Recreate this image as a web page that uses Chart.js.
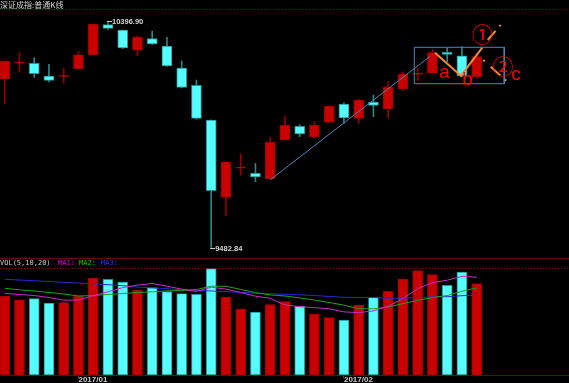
<!DOCTYPE html>
<html><head><meta charset="utf-8">
<script src="https://cdn.jsdelivr.net/npm/chart.js@4/dist/chart.umd.min.js"></script>
<style>
html,body{margin:0;padding:0;background:#000;width:569px;height:383px;overflow:hidden}
#p{position:absolute;left:0;top:0}
#v{position:absolute;left:0;top:258px}
</style></head><body>
<canvas id="p" width="569" height="258"></canvas>
<canvas id="v" width="569" height="125"></canvas>
<script>
// ---------- data ----------
const titleText = '深证成指:普通K线';
const categories = ['2016-12-26','2016-12-27','2016-12-28','2016-12-29','2016-12-30',
  '2017-01-03','2017-01-04','2017-01-05','2017-01-06','2017-01-09','2017-01-10','2017-01-11','2017-01-12','2017-01-13',
  '2017-01-16','2017-01-17','2017-01-18','2017-01-19','2017-01-20','2017-01-23','2017-01-24','2017-01-25','2017-01-26',
  '2017-02-03','2017-02-06','2017-02-07','2017-02-08','2017-02-09','2017-02-10','2017-02-13','2017-02-14','2017-02-15','2017-02-16'];
const openP  = [10167.4,10232.0,10231.0,10179.6,10178.0,10208.0,10266.0,10388.0,10366.4,10284.0,10332.0,10301.4,10212.0,10141.8,
  10000.8,9686.8,9805.5,9784.3,9762.3,9920.8,9975.2,9933.0,9991.5,10065.8,10007.7,10074.0,10045.5,10126.7,10186.0,10191.7,10276.2,10262.0,10176.7];
const closeP = [10240.5,10235.5,10189.0,10162.0,10181.5,10266.0,10389.6,10373.0,10293.3,10338.0,10309.6,10220.0,10133.6,10007.7,
  9713.6,9830.2,9809.0,9769.2,9910.2,9979.3,9943.9,9980.5,10056.5,10008.9,10082.0,10059.7,10136.0,10186.5,10189.5,10274.2,10267.7,10180.8,10258.0];
const highP  = [10242,10274,10254,10227,10211,10278,10391,10396.90,10367,10343,10362,10336.8,10240.5,10163.3,
  10001,9831,9862.7,9824.9,9930.5,10014.2,9981.7,9995.5,10058,10071,10084.9,10102.4,10156.4,10197,10211,10286.4,10293.3,10298.6,10271.8];
const lowP   = [10065.8,10194.6,10174,10156,10151,10207,10264,10369,10290.5,10262,10306.7,10218,10131,10003.6,
  9482.84,9612,9777.4,9750,9761,9919,9933,9926.5,9990,9987.4,9987.4,10014.2,10007.7,10118.6,10160.5,10191,10237.6,10176.7,10170.2];
const vol = [79,75,76.3,72,72.3,79,97,95.7,93,84.7,87.3,83.3,81.3,80.7,106.3,78,66,63,70.3,73.3,69,61,57.3,55,69.7,77.7,83.7,96,104.3,100.3,89.7,103,91.3];
const ma1 = [81.7,80.5,79.5,77.5,74.9,74.9,79.3,83.2,87.4,89.9,91.5,88.8,85.9,83.5,87.8,85.9,82.5,78.8,76.7,70.1,68.3,67.3,66.2,63.1,62.4,64.1,68.7,76.4,86.3,92.4,94.8,98.7,97.7];
const ma2 = [86.7,85.2,84,82.5,81,79,79.5,80.5,81.5,82.4,83.2,84.1,84.6,85.4,88.8,88.7,85.6,82.4,80.1,79,77.1,74.9,72.5,69.9,66.3,66.2,68,71.3,74.7,77.4,79.5,83.7,87.1];
const ma3 = [95.7,95,94.2,93.5,92.7,92,91.2,90.3,89.3,88,87.2,86.3,85.3,84.6,84,83.4,82.6,81.8,81.2,80.7,80.2,79.5,78.5,77.7,77.5,77.5,76.8,76.8,77.4,78.2,78.3,79.3,79.8];
const tickIdx = [5, 23];
const tickLabels = ['2017/01', '2017/02'];
// drawn study lines (data coordinates: bar index, price)
const trendX = [17.99, 28.83], trendY = [9757.1, 10258.8];
const boxX = [27.77, 33.87], boxY = [10148.3, 10296.2];
const zigX = [29.17, 30.93, 32.38], zigY = [10274.2, 10180.8, 10294.5];
const dash1X = [32.75, 33.63], dash1Y = [10325.8, 10386.7];
const dash2X = [32.45, 34.37], dash2Y = [10244.6, 10140.2];
const markText = ['a','b','c'], markX = [29.82, 31.38, 34.67], markY = [10172.6, 10143.0, 10163.3];
const circText = ['①','②'], circX = [32.39, 33.78], circY = [10350.2, 10220.2];

// ---------- styling ----------
const X_MIN = -0.32, X_MAX = 38.26;
const UP_FILL = '#c80000', UP_EDGE = '#a00000', UP_WICK = '#9a0000';
const DN_FILL = '#55ffff', DN_EDGE = '#2a9090', DN_WICK = '#2d8585';
const isUp = categories.map((_, i) => closeP[i] >= openP[i]);
const pts = (xs, ys) => xs.map((x, k) => ({x, y: ys[k]}));
const lineDs = (data, color, w, extra) => Object.assign({type:'line', data, borderColor:color, borderWidth:w, pointRadius:0, fill:false, tension:0, order:1}, extra||{});

const priceAnnot = {
  id: 'priceAnnot',
  afterDatasetsDraw(chart) {
    const {ctx} = chart, x = chart.scales.x, y = chart.scales.y;
    ctx.save();
    ctx.strokeStyle = '#8c0000'; ctx.lineWidth = 1; ctx.setLineDash([1, 2]);
    ctx.beginPath(); ctx.moveTo(0, 9.5); ctx.lineTo(chart.width, 9.5); ctx.stroke();
    ctx.setLineDash([]);
    ctx.fillStyle = '#d4d4d4'; ctx.textAlign = 'left'; ctx.textBaseline = 'middle';
    ctx.font = '8px "Noto Sans CJK SC"';
    ctx.fillText(titleText, 0, 5);
    // high / low labels
    const hi = Math.max(...highP), lo = Math.min(...lowP);
    const hiI = highP.indexOf(hi), loI = lowP.indexOf(lo);
    ctx.font = 'bold 7.5px "Liberation Sans"';
    ctx.strokeStyle = '#d4d4d4';
    [[hiI, hi, -1], [loI, lo, 0]].forEach(([i, v, dy]) => {
      const px = x.getPixelForValue(i), py = Math.round(y.getPixelForValue(v)) + 0.5 + dy;
      ctx.beginPath(); ctx.moveTo(px - 1, py); ctx.lineTo(px + 4, py); ctx.stroke();
      ctx.fillText(v.toFixed(2), px + 4, py);
    });
    // letters
    ctx.fillStyle = '#ff0000'; ctx.textAlign = 'center'; ctx.textBaseline = 'alphabetic';
    ctx.font = '19px "Liberation Sans"';
    markText.forEach((t, k) => ctx.fillText(t, x.getPixelForValue(markX[k]), y.getPixelForValue(markY[k])));
    ctx.textBaseline = 'middle';
    ctx.font = '21px "Noto Sans CJK SC"';
    circText.forEach((t, k) => ctx.fillText(t, x.getPixelForValue(circX[k]), y.getPixelForValue(circY[k])));
    ctx.restore();
  }
};

new Chart(document.getElementById('p'), {
  type: 'bar',
  data: { datasets: [
    { label:'wick', data: categories.map((_, i) => ({x:i, y:[lowP[i], highP[i]]})),
      backgroundColor: isUp.map(u => u ? UP_WICK : DN_WICK), borderWidth:0, barThickness:1, grouped:false, order:3 },
    { label:'body', data: categories.map((_, i) => ({x:i, y:[openP[i], closeP[i]]})),
      backgroundColor: isUp.map(u => u ? UP_FILL : DN_FILL), borderColor: isUp.map(u => u ? UP_EDGE : DN_EDGE),
      borderWidth:1, borderSkipped:false, barThickness:10, grouped:false, minBarLength:1, order:2 },
    lineDs(pts(trendX, trendY), '#4d84b8', 1),
    lineDs([{x:boxX[0],y:boxY[1]},{x:boxX[1],y:boxY[1]},{x:boxX[1],y:boxY[0]},{x:boxX[0],y:boxY[0]},{x:boxX[0],y:boxY[1]}], '#4d84b8', 1),
    lineDs(pts(zigX, zigY), '#ee8a3c', 2),
    lineDs(pts(dash1X, dash1Y), '#ee8a3c', 2, {borderDash:[12, 6, 2, 30]}),
    lineDs(pts(dash2X, dash2Y), '#ee8a3c', 2, {borderDash:[2, 8, 13, 6]})
  ]},
  options: {
    responsive:false, animation:false, events:[],
    layout:{padding:0},
    plugins:{legend:{display:false}, tooltip:{enabled:false}},
    scales:{
      x:{type:'linear', min:X_MIN, max:X_MAX, offset:false, display:false},
      y:{type:'linear', min:9440.2, max:10488.3, display:false}
    }
  },
  plugins:[priceAnnot]
});

const volAnnot = {
  id:'volAnnot',
  afterDatasetsDraw(chart) {
    const {ctx} = chart;
    ctx.save();
    ctx.strokeStyle = '#6a0808'; ctx.lineWidth = 1;
    ctx.beginPath(); ctx.moveTo(0, 0.5); ctx.lineTo(chart.width, 0.5); ctx.stroke();
    ctx.strokeStyle = '#9a0000'; ctx.setLineDash([1, 2]);
    const top = Math.round(chart.chartArea.top) + 0.5;
    ctx.beginPath(); ctx.moveTo(0, top); ctx.lineTo(chart.width, top); ctx.stroke();
    ctx.setLineDash([]);
    ctx.textBaseline = 'middle'; ctx.textAlign = 'left';
    ctx.font = '7px "DejaVu Sans Mono"';
    const parts = [['VOL(5,10,20)', '#c8c8c8', 0], ['MA1:', '#e000e0', 58], ['MA2:', '#00d000', 79], ['MA3:', '#3030ff', 101]];
    parts.forEach(([t, c, px]) => { ctx.fillStyle = c; ctx.fillText(t, px, 5.5); });
    ctx.restore();
  }
};

new Chart(document.getElementById('v'), {
  type: 'bar',
  data: { datasets: [
    lineDs(pts(categories.map((_, i) => i), ma1), '#c030c0', 1),
    lineDs(pts(categories.map((_, i) => i), ma2), '#20a020', 1),
    lineDs(pts(categories.map((_, i) => i), ma3), '#2a2ad0', 1),
    { label:'VOL', data: categories.map((_, i) => ({x:i, y:vol[i]})),
      backgroundColor: isUp.map(u => u ? UP_FILL : DN_FILL), borderColor: isUp.map(u => u ? UP_EDGE : DN_EDGE),
      borderWidth:1, borderSkipped:false, barThickness:10, grouped:false, order:2 }
  ]},
  options: {
    responsive:false, animation:false, events:[],
    layout:{padding:{top:10, left:0, right:0, bottom:0}},
    plugins:{legend:{display:false}, tooltip:{enabled:false}},
    scales:{
      x:{type:'linear', min:X_MIN, max:X_MAX, offset:false,
        afterBuildTicks: s => { s.ticks = tickIdx.map(v => ({value:v})); },
        afterFit: s => { s.height = 8; },
        ticks:{ align:'start', color:'#c8c8c8', font:{family:'Liberation Sans', size:8, weight:'bold'},
          padding:-3.5, maxRotation:0, autoSkip:false, callback:(v, i) => tickLabels[i] },
        grid:{display:true, offset:false, drawOnChartArea:false, drawTicks:true, tickLength:3, color:'#8a3030'},
        border:{display:true, color:'#6a0808'}
      },
      y:{type:'linear', min:0, max:107, display:false}
    }
  },
  plugins:[volAnnot]
});
</script>
</body></html>
